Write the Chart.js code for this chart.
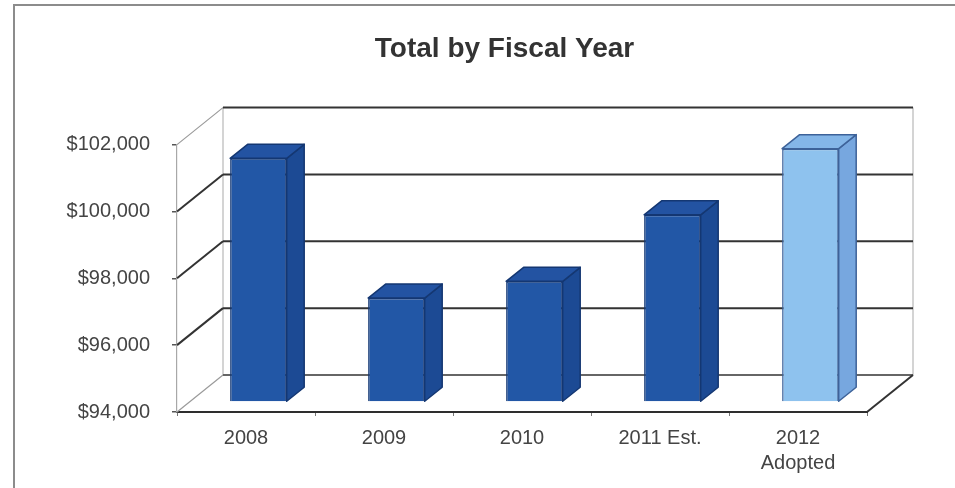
<!DOCTYPE html>
<html lang="en">
<head>
<meta charset="UTF-8">
<title>Total by Fiscal Year</title>
<script src="https://cdn.jsdelivr.net/npm/chart.js"></script>
<style>
    body { margin: 0; background: #fff; overflow: hidden; }
    /* thin page frame around the figure */
    .frame { position: absolute; left: 13px; top: 4px; width: 1100px; height: 600px; border: 2px solid #8c8c8c; }
    .chart-box { position: absolute; left: 0; top: 0; width: 955px; height: 488px; }
</style>
</head>
<body>
<div class="frame"></div>
<div class="chart-box"><canvas id="fiscalChart"></canvas></div>

<script>
    // Totals per fiscal year
    const years = [['2008'], ['2009'], ['2010'], ['2011 Est.'], ['2012', 'Adopted']];
    const totals = [101290, 97110, 97610, 99600, 101580];
    const yMin = 94000;
    const yMax = 102000;
    const yStep = 2000;

    // 3D depth of the walls and of the bars (px)
    const WALL = { dx: 46, dy: -37 };
    const BAR_SHIFT = { dx: 12.4, dy: -10 };
    const BAR_DEPTH = { dx: 17.5, dy: -14 };

    const darkBlue = { front: '#2257a6', side: '#1c4a94', top: '#2353a2', edge: '#143772' };
    const lightBlue = { front: '#8ec2ee', side: '#77a7df', top: '#84b6e8', edge: '#3d6299' };
    // the adopted budget is shown in light blue
    const barStyle = years.map((y, i) => i === years.length - 1 ? lightBlue : darkBlue);

    function line(ctx, x1, y1, x2, y2, color, width) {
        ctx.beginPath();
        ctx.moveTo(x1, y1);
        ctx.lineTo(x2, y2);
        ctx.strokeStyle = color;
        ctx.lineWidth = width;
        ctx.stroke();
    }

    function face(ctx, pts, fill, edge) {
        ctx.beginPath();
        pts.forEach((p, i) => i ? ctx.lineTo(p[0], p[1]) : ctx.moveTo(p[0], p[1]));
        ctx.closePath();
        ctx.fillStyle = fill;
        ctx.fill();
        ctx.strokeStyle = edge;
        ctx.lineWidth = 1.5;
        ctx.lineJoin = 'round';
        ctx.stroke();
    }

    // Draws the box walls behind the bars, and the side/top faces of each bar
    const box3d = {
        id: 'box3d',
        beforeDatasetsDraw(chart) {
            const { ctx, chartArea: a, scales: { y } } = chart;
            const L = a.left, R = a.right, B = a.bottom, T = a.top;
            ctx.save();
            line(ctx, L + WALL.dx, T + WALL.dy, L + WALL.dx, B + WALL.dy, '#b8b8b8', 1.2);
            line(ctx, R + WALL.dx, T + WALL.dy, R + WALL.dx, B + WALL.dy, '#b8b8b8', 1.2);
            y.ticks.forEach(t => {
                const py = y.getPixelForValue(t.value);
                const edge = t.value === yMin || t.value === yMax;
                line(ctx, L, py, L + WALL.dx, py + WALL.dy, edge ? '#9a9a9a' : '#333', edge ? 1.2 : 2);
                line(ctx, L + WALL.dx, py + WALL.dy, R + WALL.dx, py + WALL.dy, t.value === yMin ? '#666' : '#333', 2);
            });
            // right edge of the floor
            line(ctx, R, B, R + WALL.dx, B + WALL.dy, '#333', 2);
            ctx.restore();

            // bar fronts are drawn by Chart.js, pushed back into the box
            ctx.save();
            ctx.translate(BAR_SHIFT.dx, BAR_SHIFT.dy);
        },
        afterDatasetsDraw(chart) {
            const ctx = chart.ctx;
            ctx.restore();
            chart.getDatasetMeta(0).data.forEach((bar, i) => {
                const { x, y, base, width } = bar.getProps(['x', 'y', 'base', 'width'], true);
                const s = barStyle[i];
                const l = x - width / 2 + BAR_SHIFT.dx;
                const r = x + width / 2 + BAR_SHIFT.dx;
                const t = y + BAR_SHIFT.dy;
                const b = base + BAR_SHIFT.dy;
                const dx = BAR_DEPTH.dx, dy = BAR_DEPTH.dy;
                face(ctx, [[r, t], [r + dx, t + dy], [r + dx, b + dy], [r, b]], s.side, s.edge);
                face(ctx, [[l, t], [l + dx, t + dy], [r + dx, t + dy], [r, t]], s.top, s.edge);
            });
        }
    };

    Chart.defaults.font.family = "'Liberation Sans', Arial, sans-serif";

    new Chart(document.getElementById('fiscalChart'), {
        type: 'bar',
        data: {
            labels: years,
            datasets: [{
                data: totals,
                base: yMin,
                backgroundColor: barStyle.map(s => s.front),
                borderColor: barStyle.map(s => s.edge),
                borderWidth: 1.5,
                barPercentage: 0.41,
                categoryPercentage: 1,
                clip: false
            }]
        },
        options: {
            responsive: true,
            maintainAspectRatio: false,
            animation: false,
            layout: { padding: { left: 54, right: 0, top: 0, bottom: 0 } },
            plugins: {
                legend: { display: false },
                tooltip: { enabled: false },
                title: {
                    display: true,
                    text: 'Total by Fiscal Year',
                    color: '#333',
                    font: { size: 28, weight: 'bold' },
                    padding: { top: 32, bottom: 79 }
                }
            },
            scales: {
                x: {
                    grid: { display: true, drawOnChartArea: false, tickLength: 4, color: '#777', lineWidth: 1 },
                    border: { display: true, color: '#2e2e2e', width: 2 },
                    ticks: { color: '#444', font: { size: 20, lineHeight: 1.25 }, padding: 10, maxRotation: 0, autoSkip: false },
                    afterFit: s => { s.height = 76; }
                },
                y: {
                    min: yMin,
                    max: yMax,
                    ticks: {
                        stepSize: yStep,
                        padding: 22,
                        color: '#444',
                        font: { size: 20 },
                        callback: v => '$' + v.toLocaleString('en-US')
                    },
                    grid: { drawOnChartArea: false, tickLength: 5, color: '#555', lineWidth: 1.5 },
                    border: { display: true, color: '#a8a8a8', width: 1.2 },
                    afterFit: s => { s.width = 123; }
                },
                // empty strip on the right that holds the depth of the box
                depth: {
                    type: 'linear',
                    position: 'right',
                    ticks: { display: false },
                    grid: { display: false },
                    border: { display: false },
                    afterFit: s => { s.width = 88; }
                }
            }
        },
        plugins: [box3d]
    });
</script>
</body>
</html>
